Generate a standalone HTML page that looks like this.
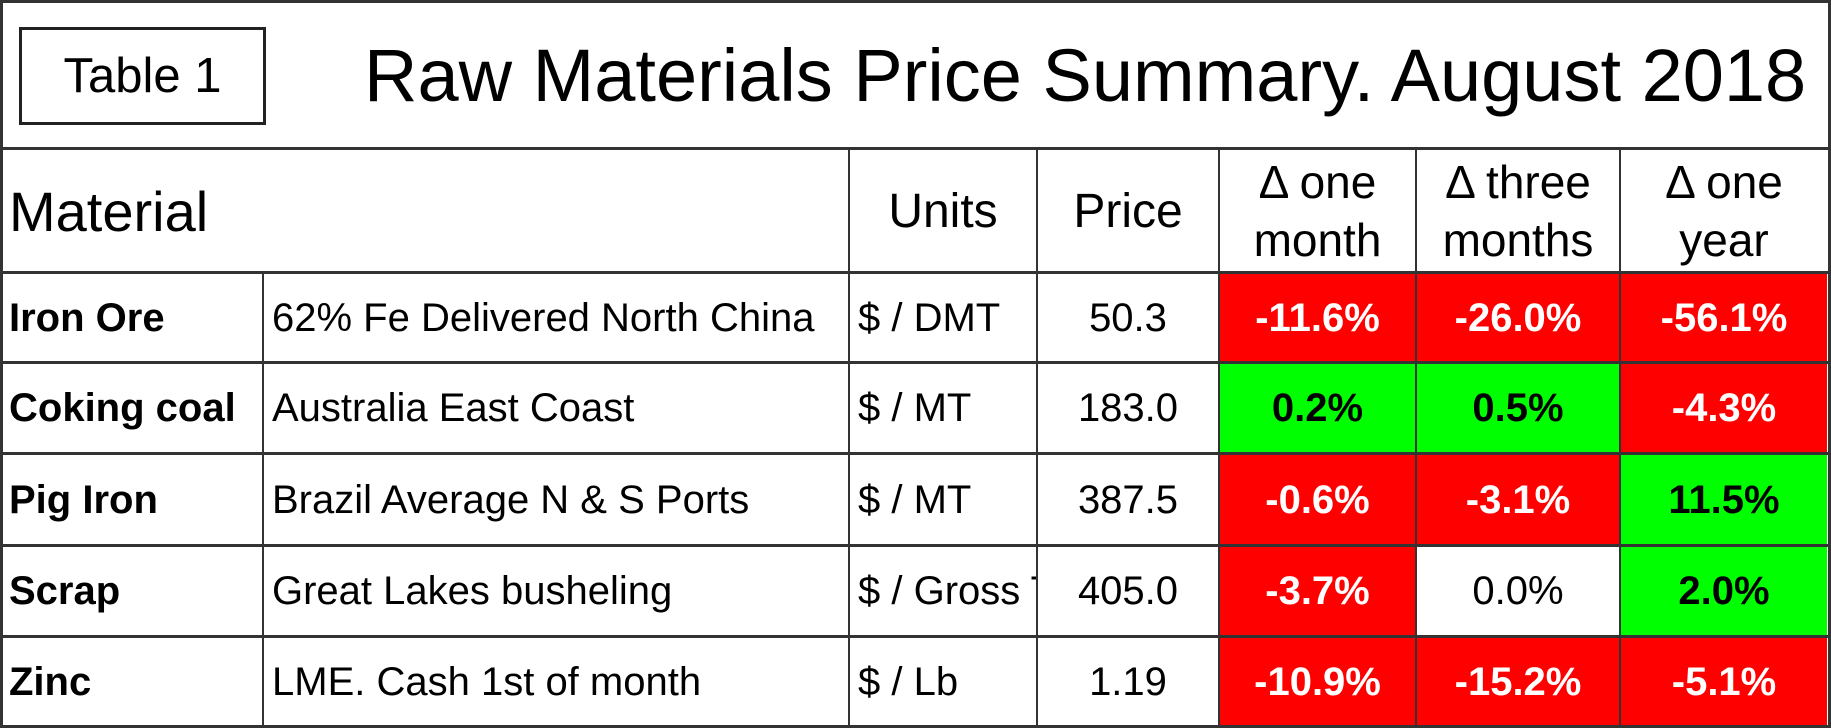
<!DOCTYPE html>
<html><head><meta charset="utf-8"><style>
html,body{margin:0;padding:0;background:#fff;}
#root{position:relative;width:1831px;height:728px;overflow:hidden;font-family:"Liberation Sans",sans-serif;color:#000;}
.b{position:absolute;background:#333;}
.c{position:absolute;display:flex;align-items:center;justify-content:center;font-size:40px;white-space:nowrap;overflow:hidden;box-sizing:border-box;}
.l{justify-content:flex-start;padding-left:8px;}
.bold{font-weight:bold;}
.red{background:#ff0000;color:#fff;font-weight:bold;}
.grn{background:#00ff00;color:#000;font-weight:bold;}
</style></head><body>
<div id="root">
<div class="b" style="left:0;top:0;width:1831px;height:3px"></div>
<div class="b" style="left:0;top:0;width:3px;height:728px"></div>
<div class="b" style="left:1828px;top:0;width:3px;height:728px"></div>
<div class="b" style="left:0;top:725px;width:1831px;height:3px"></div>
<div style="position:absolute;left:19px;top:27px;width:241px;height:92px;border:3px solid #222;display:flex;align-items:center;justify-content:center;font-size:49px">Table 1</div>
<div style="position:absolute;left:364px;top:31px;font-size:74px;line-height:90px;white-space:nowrap">Raw Materials Price Summary. August 2018</div>
<div class="b" style="left:0;top:147px;width:1831px;height:3px"></div>
<div class="c l" style="left:3px;top:150px;width:840px;height:122px;font-size:56px;padding-left:6px">Material</div>
<div class="c" style="left:849px;top:150px;width:188px;height:122px;font-size:48px">Units</div>
<div class="c" style="left:1037px;top:150px;width:182px;height:122px;font-size:48px">Price</div>
<div class="c" style="left:1219px;top:150px;width:197px;height:122px;font-size:46px;line-height:58px;text-align:center;white-space:normal">Δ one<br>month</div>
<div class="c" style="left:1416px;top:150px;width:204px;height:122px;font-size:46px;line-height:58px;text-align:center;white-space:normal">Δ three<br>months</div>
<div class="c" style="left:1620px;top:150px;width:208px;height:122px;font-size:46px;line-height:58px;text-align:center;white-space:normal">Δ one<br>year</div>
</div>
<script>
const materials=["Iron Ore","Coking coal","Pig Iron","Scrap","Zinc"];
const descriptions=["62% Fe Delivered North China","Australia East Coast","Brazil Average N & S Ports","Great Lakes busheling","LME. Cash 1st of month"];
const units=["$ / DMT","$ / MT","$ / MT","$ / Gross Ton","$ / Lb"];
const prices=["50.3","183.0","387.5","405.0","1.19"];
const oneMonth=[-11.6,0.2,-0.6,-3.7,-10.9];
const threeMonths=[-26.0,0.5,-3.1,0.0,-15.2];
const oneYear=[-56.1,-4.3,11.5,2.0,-5.1];
const root=document.getElementById('root');
const rowTops=[272,362,453,545,636,726];
const cols=[3,263,849,1037,1219,1416,1620,1828];
function line(x,y,w,h){const d=document.createElement('div');d.className='b';d.style.cssText=`left:${x}px;top:${y}px;width:${w}px;height:${h}px`;root.appendChild(d);}
line(0,271,1831,3);
[849,1037,1219,1416,1620].forEach(x=>line(x-1,148,2,578));
line(262,272,2,454);
for(let i=0;i<5;i++){
 const top=rowTops[i]+2,h=rowTops[i+1]-rowTops[i]-2;
 const cells=[
  {t:materials[i],cls:'l bold',n:'material-name'},
  {t:descriptions[i],cls:'l',n:'material-description'},
  {t:units[i],cls:'l',n:'unit'},
  {t:prices[i],cls:'',n:'price'},
  {v:oneMonth[i],n:'change-one-month'},
  {v:threeMonths[i],n:'change-three-months'},
  {v:oneYear[i],n:'change-one-year'}];
 cells.forEach((c,j)=>{
  const d=document.createElement('div');
  let cls='c ';
  let txt=c.t;
  if(c.v!==undefined){txt=c.v.toFixed(1)+'%';cls+=c.v<0?'red':(c.v>0?'grn':'');}
  else cls+=c.cls;
  d.className=cls;
  const x0=cols[j]+(j>0?1:0),x1=cols[j+1]-1;
  d.style.cssText=`left:${x0}px;top:${top}px;width:${x1-x0}px;height:${h}px`;
  if(j===0)d.style.paddingLeft='6px';
  d.textContent=txt;
  
  
  root.appendChild(d);
 });
 line(0,rowTops[i+1]-1,1831,3);
}
</script>
</body></html>
